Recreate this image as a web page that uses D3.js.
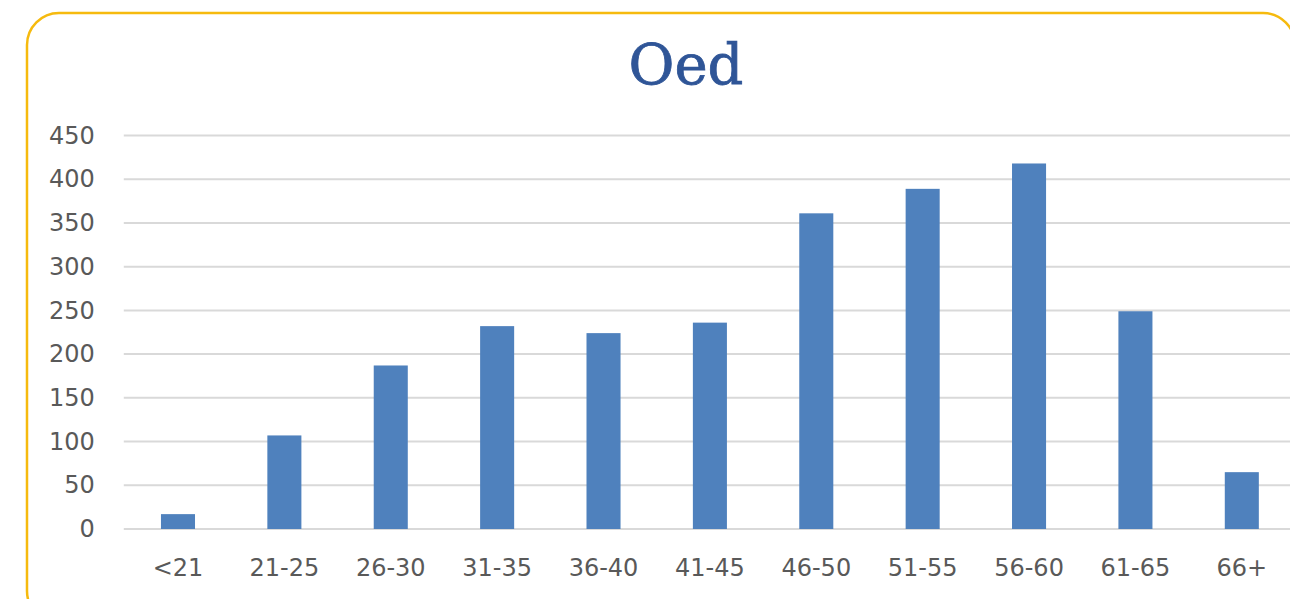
<!DOCTYPE html>
<html>
<head>
<meta charset="utf-8">
<script src="https://cdnjs.cloudflare.com/ajax/libs/d3/7.8.5/d3.min.js"></script>
<style>
  html, body { margin: 0; padding: 0; background: #fff; overflow: hidden; }
  svg { display: block; }
</style>
</head>
<body>
<div id="chart"></div>
<script>
// age groups and counts
const categories = ['<21', '21-25', '26-30', '31-35', '36-40', '41-45', '46-50', '51-55', '56-60', '61-65', '66+'];
const counts = [17, 107, 187, 232, 224, 236, 361, 389, 418, 249, 65];
const yTicks = [0, 50, 100, 150, 200, 250, 300, 350, 400, 450];
const title = 'Oed';

const width = 1290;
const height = 599;

const svg = d3.select('#chart').append('svg')
  .attr('width', width)
  .attr('height', height);

// rounded yellow frame, runs off the right and bottom edges
svg.append('rect')
  .attr('x', 27).attr('y', 13)
  .attr('width', 1268).attr('height', 610)
  .attr('rx', 32).attr('ry', 32)
  .attr('fill', '#fff')
  .attr('stroke', '#F6BA0E')
  .attr('stroke-width', 2.5);

svg.append('text')
  .attr('x', 686).attr('y', 84)
  .attr('text-anchor', 'middle')
  .attr('font-family', '"DejaVu Serif", serif')
  .attr('font-size', 56)
  .attr('fill', '#2F5597')
  .attr('stroke', '#2F5597')
  .attr('stroke-width', 0.8)
  .text(title);

const plotLeft = 124.8, plotRight = 1295, plotTop = 135.5, plotBottom = 529;

const x = d3.scaleBand()
  .domain(categories)
  .range([plotLeft, plotRight])
  .paddingInner(0.68)
  .paddingOuter(0.34);

const y = d3.scaleLinear()
  .domain([0, 450])
  .range([plotBottom, plotTop]);

// gridlines
svg.append('g')
  .selectAll('line')
  .data(yTicks)
  .join('line')
  .attr('x1', plotLeft - 1).attr('x2', width)
  .attr('y1', d => y(d)).attr('y2', d => y(d))
  .attr('stroke', '#d9d9d9')
  .attr('stroke-width', 2);

// bars
svg.append('g')
  .selectAll('rect')
  .data(counts)
  .join('rect')
  .attr('x', (d, i) => x(categories[i]))
  .attr('width', x.bandwidth())
  .attr('y', d => y(d))
  .attr('height', d => y(0) - y(d))
  .attr('fill', '#4F81BD');

// y axis
const yAxis = svg.append('g')
  .attr('transform', `translate(${plotLeft},0)`)
  .call(d3.axisLeft(y).tickValues(yTicks).tickSize(0).tickPadding(30));
yAxis.select('.domain').remove();
yAxis.selectAll('text')
  .attr('font-family', '"DejaVu Sans", sans-serif')
  .attr('font-size', 24)
  .attr('fill', '#595959');

// x axis
const xAxis = svg.append('g')
  .attr('transform', `translate(0,${plotBottom})`)
  .call(d3.axisBottom(x).tickSize(0).tickPadding(30));
xAxis.select('.domain').remove();
xAxis.selectAll('text')
  .attr('font-family', '"DejaVu Sans", sans-serif')
  .attr('font-size', 24)
  .attr('fill', '#595959');
</script>
</body>
</html>
